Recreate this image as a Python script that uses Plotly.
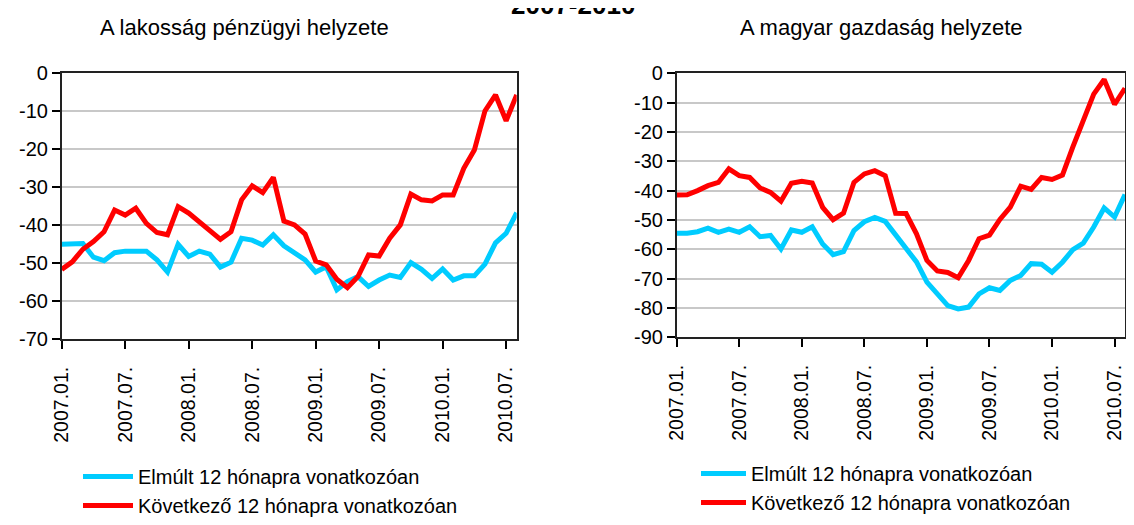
import plotly.graph_objects as go

months = [f"{y}.{m:02d}." for y in range(2007, 2011) for m in range(1, 13)][:44]
tick_labels = ["2007.01.", "2007.07.", "2008.01.", "2008.07.", "2009.01.", "2009.07.", "2010.01.", "2010.07."]
y_ticks_left = [0, -10, -20, -30, -40, -50, -60, -70]
y_ticks_right = [0, -10, -20, -30, -40, -50, -60, -70, -80, -90]

lak_elmult = [-45.0, -45.0, -44.8, -48.4, -49.3, -47.2, -46.8, -46.8, -46.8, -49.1, -52.3, -45.0,
              -48.2, -46.8, -47.6, -51.0, -49.7, -43.4, -43.9, -45.2, -42.5, -45.4, -47.2, -49.1,
              -52.3, -50.9, -57.0, -54.8, -53.5, -56.1, -54.4, -53.1, -53.7, -49.8, -51.6, -54.0,
              -51.5, -54.4, -53.3, -53.3, -50.2, -44.6, -42.1, -36.7]
lak_kovetkezo = [-51.6, -49.6, -46.3, -44.3, -41.7, -36.0, -37.3, -35.5, -39.5, -41.9, -42.5, -35.1,
                 -36.8, -39.0, -41.2, -43.7, -41.7, -33.3, -29.6, -31.4, -27.4, -38.9, -39.9, -42.3,
                 -49.4, -50.4, -54.2, -56.4, -53.5, -47.8, -48.1, -43.4, -39.9, -31.8, -33.3, -33.6,
                 -32.0, -32.0, -25.0, -20.2, -9.9, -5.7, -12.5, -5.7]
gazd_elmult = [-54.5, -54.5, -54.0, -52.8, -54.2, -53.1, -54.2, -52.3, -55.7, -55.3, -59.9, -53.4,
               -54.2, -52.3, -58.2, -61.8, -60.8, -53.6, -50.6, -49.1, -50.5, -55.2, -59.2, -64.3,
               -71.2, -75.2, -79.2, -80.3, -79.7, -75.2, -73.1, -74.0, -70.6, -68.9, -64.9, -65.1,
               -67.8, -64.4, -60.1, -57.9, -52.4, -45.9, -49.0, -41.3]
gazd_kovetkezo = [-41.5, -41.4, -40.0, -38.3, -37.2, -32.6, -34.9, -35.5, -39.1, -40.6, -43.6, -37.5,
                  -36.8, -37.4, -45.7, -49.9, -47.7, -37.2, -34.3, -33.2, -34.9, -47.7, -47.8, -54.7,
                  -63.8, -67.4, -67.9, -69.7, -63.8, -56.4, -55.2, -49.8, -45.6, -38.5, -39.6, -35.5,
                  -36.2, -34.7, -25.1, -16.5, -7.1, -2.1, -10.6, -5.1]

name_past = "Elmúlt 12 hónapra vonatkozóan"
name_next = "Következő 12 hónapra vonatkozóan"
titles = ["A lakosság pénzügyi helyzete", "A magyar gazdaság helyzete"]
main_title = "2007-2010"

BLUE = "#00CCFF"
RED = "#FF0000"
FONT = "Liberation Sans, Arial, sans-serif"

W, H = 1118, 509
OFF = 8  # page body margin


def fx(p):
    return min(max((p - OFF) / W, 0), 1)


def fy(p):
    return 1 - (p - OFF) / H


fig = go.Figure()
fig.add_trace(go.Scatter(x=months, y=lak_elmult, name=name_past, mode="lines",
                         line=dict(color=BLUE, width=5), xaxis="x", yaxis="y",
                         legend="legend", legendgroup="a1"))
fig.add_trace(go.Scatter(x=months, y=lak_kovetkezo, name=name_next, mode="lines",
                         line=dict(color=RED, width=5), xaxis="x", yaxis="y",
                         legend="legend", legendgroup="a2"))
fig.add_trace(go.Scatter(x=months, y=gazd_elmult, name=name_past, mode="lines",
                         line=dict(color=BLUE, width=5), xaxis="x2", yaxis="y2",
                         legend="legend2", legendgroup="b1"))
fig.add_trace(go.Scatter(x=months, y=gazd_kovetkezo, name=name_next, mode="lines",
                         line=dict(color=RED, width=5), xaxis="x2", yaxis="y2",
                         legend="legend2", legendgroup="b2"))

xcommon = dict(type="category", categoryorder="array", categoryarray=months,
               range=[0, len(months) - 1], tickmode="array", tickvals=tick_labels,
               ticktext=tick_labels, tickangle=-90, ticks="outside", ticklen=8,
               tickcolor="#000", tickwidth=1.5, showgrid=False, showline=True,
               linecolor="#222", linewidth=1.5, mirror=True, automargin=False,
               ticklabelstandoff=10,
               tickfont=dict(family=FONT, size=19.5, color="#000"))
ycommon = dict(tickmode="array", ticks="outside", ticklen=8, tickcolor="#000", tickwidth=1.5,
               showgrid=True, gridcolor="#c8c8c8", gridwidth=1.5, zeroline=False,
               showline=True, linecolor="#222", linewidth=1.5, mirror=True,
               automargin=False, tickfont=dict(family=FONT, size=20, color="#000"))

fig.update_layout(
    width=W, height=H,
    margin=dict(l=0, r=0, t=0, b=0, pad=0, autoexpand=False),
    paper_bgcolor="white", plot_bgcolor="white",
    showlegend=True,
    xaxis=dict(domain=[fx(61.7), fx(516.7)], anchor="y", **xcommon),
    yaxis=dict(domain=[fy(339.3), fy(73.3)], anchor="x", range=[-70, 0],
               tickvals=y_ticks_left, ticktext=[str(v) for v in y_ticks_left], **ycommon),
    xaxis2=dict(domain=[fx(676.7), fx(1125)], anchor="y2", **xcommon),
    yaxis2=dict(domain=[fy(337.3), fy(73.3)], anchor="x2", range=[-90, 0],
                tickvals=y_ticks_right, ticktext=[str(v) for v in y_ticks_right], **ycommon),
    legend=dict(x=fx(78), y=fy(457), xanchor="left", yanchor="top",
                font=dict(family=FONT, size=20, color="#000"), tracegroupgap=0,
                itemwidth=50, bgcolor="rgba(0,0,0,0)"),
    legend2=dict(x=fx(696), y=fy(454), xanchor="left", yanchor="top",
                 font=dict(family=FONT, size=20, color="#000"), tracegroupgap=0,
                 itemwidth=45, bgcolor="rgba(0,0,0,0)"),
    annotations=[
        dict(text=titles[0], x=fx(244), y=fy(28), xref="paper", yref="paper",
             showarrow=False, xanchor="center", yanchor="middle",
             font=dict(family=FONT, size=22, color="#000")),
        dict(text=titles[1], x=fx(881), y=fy(28), xref="paper", yref="paper",
             showarrow=False, xanchor="center", yanchor="middle",
             font=dict(family=FONT, size=22, color="#000")),
        dict(text="<b>" + main_title + "</b>", x=fx(573), y=fy(5), xref="paper", yref="paper",
             showarrow=False, xanchor="center", yanchor="middle",
             font=dict(family=FONT, size=26, color="#000")),
    ],
)

fig.write_html("out.html")
